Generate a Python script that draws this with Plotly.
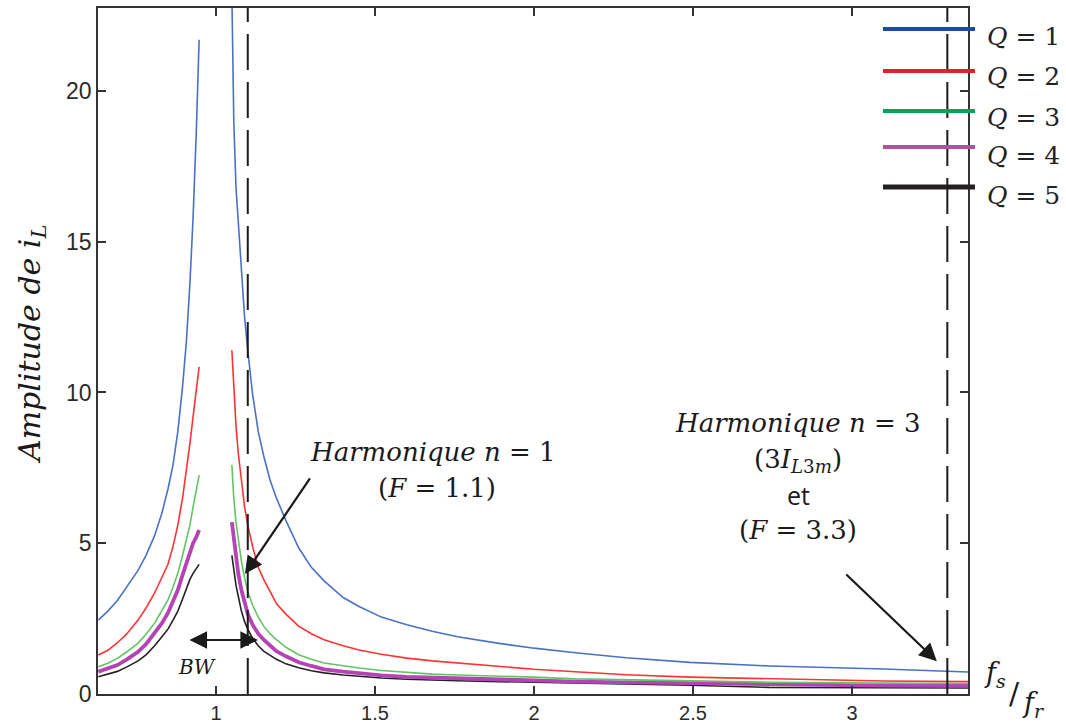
import plotly.graph_objects as go

# ---- data ----
x_left = [0.63, 0.66, 0.69, 0.72, 0.755, 0.78, 0.807, 0.83, 0.849, 0.865,
          0.88, 0.895, 0.907, 0.918, 0.928, 0.938, 0.947]
x_right = [1.05, 1.056, 1.063, 1.07, 1.08, 1.09, 1.10, 1.115, 1.133, 1.15,
           1.17, 1.19, 1.22, 1.26, 1.30, 1.34, 1.40, 1.45, 1.52, 1.60,
           1.68, 1.76, 1.89, 2.0, 2.13, 2.29, 2.49, 2.74, 3.1, 3.365]

q1_left = [2.45, 2.75, 3.1, 3.55, 4.1, 4.6, 5.25, 6.0, 6.8, 7.6, 8.7, 10.2, 11.7, 13.6, 15.8, 18.6, 21.7]
q2_left = [1.29, 1.45, 1.7, 2.0, 2.45, 2.85, 3.35, 3.85, 4.3, 4.9, 5.6, 6.5, 7.4, 8.3, 9.2, 10.0, 10.85]
q3_left = [0.9, 1.02, 1.18, 1.4, 1.69, 1.98, 2.35, 2.75, 3.12, 3.55, 4.0, 4.6, 5.1, 5.6, 6.2, 6.7, 7.26]
q4_left = [0.74, 0.85, 0.96, 1.15, 1.4, 1.65, 2.02, 2.35, 2.69, 3.05, 3.45, 3.95, 4.33, 4.7, 5.0, 5.2, 5.44]
q5_left = [0.57, 0.65, 0.75, 0.9, 1.1, 1.3, 1.6, 1.9, 2.15, 2.45, 2.75, 3.15, 3.5, 3.8, 4.0, 4.15, 4.3]

q1_right = [23.2, 19.0, 16.8, 15.6, 14.0, 12.5, 11.4, 9.95, 8.7, 7.9,
            7.1, 6.5, 5.75, 4.85, 4.2, 3.75, 3.2, 2.9, 2.55, 2.3,
            2.08, 1.9, 1.68, 1.52, 1.37, 1.2, 1.05, 0.93, 0.83, 0.73]
q2_right = [11.4, 10.0, 8.9, 8.0, 7.0, 6.2, 5.6, 4.9, 4.2, 3.8,
            3.4, 3.0, 2.65, 2.25, 2.0, 1.8, 1.6, 1.46, 1.32, 1.19,
            1.1, 1.03, 0.9, 0.82, 0.74, 0.64, 0.56, 0.5, 0.43, 0.41]
q3_right = [7.6, 6.5, 5.7, 5.1, 4.4, 3.85, 3.4, 2.95, 2.55, 2.25,
            2.0, 1.8, 1.55, 1.3, 1.15, 1.03, 0.93, 0.86, 0.78, 0.71,
            0.66, 0.63, 0.6, 0.56, 0.5, 0.47, 0.42, 0.39, 0.36, 0.35]
q4_right = [5.7, 5.1, 4.5, 4.0, 3.45, 3.0, 2.65, 2.3, 2.0, 1.8,
            1.6, 1.42, 1.25, 1.05, 0.93, 0.82, 0.74, 0.68, 0.62, 0.57,
            0.54, 0.51, 0.48, 0.45, 0.41, 0.39, 0.37, 0.31, 0.28, 0.27]
q5_right = [4.6, 4.1, 3.6, 3.25, 2.75, 2.4, 2.15, 1.85, 1.6, 1.42,
            1.28, 1.15, 1.0, 0.87, 0.77, 0.7, 0.63, 0.58, 0.53, 0.49,
            0.46, 0.44, 0.41, 0.39, 0.35, 0.32, 0.29, 0.22, 0.21, 0.2]

q_labels = ["1", "2", "3", "4", "5"]
harmonics = [1.1, 3.3]
x_ticks = [1, 1.5, 2, 2.5, 3]
x_tick_text = ["1", "1.5", "2", "2.5", "3"]
y_ticks = [0, 5, 10, 15, 20]
y_tick_text = ["0", "5", "10", "15", "20"]

# ---- styles ----
plot_colors = ["#4a72c4", "#ff3333", "#62c462", "#b444b4", "#222222"]
plot_widths = [1.6, 1.6, 1.6, 3.8, 1.6]
legend_colors = ["#1a4c9c", "#ee1c25", "#00a651", "#b5509e", "#231f20"]
legend_widths = [4, 4, 4, 4, 5]

lefts = [q1_left, q2_left, q3_left, q4_left, q5_left]
rights = [q1_right, q2_right, q3_right, q4_right, q5_right]

fig = go.Figure()
order = [4, 3, 2, 1, 0]
for i in order:
    fig.add_trace(go.Scatter(
        x=x_left + [None] + x_right,
        y=lefts[i] + [None] + rights[i],
        mode="lines",
        line=dict(color=plot_colors[i], width=plot_widths[i]),
        name="Q = " + q_labels[i],
        showlegend=False,
        connectgaps=False,
    ))

W, H = 1066, 725
L, R, T, B = 98, 98, 8, 31
pw, ph = W - L - R, H - T - B


def px(xp):
    return (xp - L) / pw


def py(yp):
    return (H - B - yp) / ph


MATH = "DejaVu Serif"
INK = "#1a1a1a"

shapes = []
for h in harmonics:
    shapes.append(dict(type="line", xref="x", yref="paper", x0=h, x1=h, y0=0, y1=1,
                       line=dict(color=INK, width=2, dash="36px,12px"), layer="above"))

legend_y = [29, 71, 111, 147, 187]
label_y = [36, 77, 118, 155, 195]
annotations = []
for i in range(5):
    shapes.append(dict(type="line", xref="paper", yref="paper",
                       x0=px(883), x1=px(975), y0=py(legend_y[i]), y1=py(legend_y[i]),
                       line=dict(color=legend_colors[i], width=legend_widths[i]), layer="above"))
    annotations.append(dict(xref="paper", yref="paper", x=px(985), y=py(label_y[i]),
                            xanchor="left", yanchor="middle", showarrow=False,
                            text="<i>Q</i> = " + q_labels[i],
                            font=dict(family=MATH, size=25, color="#222")))

serif = dict(family=MATH, size=26, color=INK)

annotations += [
    dict(xref="paper", yref="paper", x=px(433), y=py(452), showarrow=False,
         text="<i>Harmonique n</i> = 1", font=serif, xanchor="center", yanchor="middle"),
    dict(xref="paper", yref="paper", x=px(437), y=py(488), showarrow=False,
         text="(<i>F</i> = 1.1)", font=serif, xanchor="center", yanchor="middle"),
    dict(xref="paper", yref="paper", x=px(798), y=py(423), showarrow=False,
         text="<i>Harmonique n</i> = 3", font=serif, xanchor="center", yanchor="middle"),
    dict(xref="paper", yref="paper", x=px(798), y=py(460), showarrow=False,
         text="(3<i>I</i><sub><i>L</i>3<i>m</i></sub>)", font=serif, xanchor="center", yanchor="middle"),
    dict(xref="paper", yref="paper", x=px(798), y=py(495), showarrow=False,
         text="et", font=dict(family="Open Sans", size=25, color=INK),
         xanchor="center", yanchor="middle"),
    dict(xref="paper", yref="paper", x=px(798), y=py(530), showarrow=False,
         text="(<i>F</i> = 3.3)", font=serif, xanchor="center", yanchor="middle"),
    dict(xref="paper", yref="paper", x=px(197), y=py(667), showarrow=False,
         text="<i>BW</i>", font=dict(family=MATH, size=20, color=INK),
         xanchor="center", yanchor="middle"),
    dict(xref="paper", yref="paper", x=px(31), y=py(345), showarrow=False, textangle=-90,
         text="<i>Amplitude de i</i><sub><i>L</i></sub>",
         font=dict(family=MATH, size=30, color=INK),
         xanchor="center", yanchor="middle"),
    dict(xref="paper", yref="paper", x=px(995), y=py(674), showarrow=False,
         text="<i>f</i><sub><i>s</i></sub>", font=dict(family=MATH, size=27, color=INK),
         xanchor="center", yanchor="middle"),
    dict(xref="paper", yref="paper", x=px(1014), y=py(693), showarrow=False,
         text="/", font=dict(family=MATH, size=30, color=INK),
         xanchor="center", yanchor="middle"),
    dict(xref="paper", yref="paper", x=px(1033), y=py(704), showarrow=False,
         text="<i>f</i><sub><i>r</i></sub>", font=dict(family=MATH, size=27, color=INK),
         xanchor="center", yanchor="middle"),
    # arrows
    dict(x=1.0912, y=3.98, xref="x", yref="y", ax=66, ay=-97, text="", showarrow=True,
         arrowhead=2, arrowsize=1.6, arrowwidth=2.2, arrowcolor=INK, standoff=0),
    dict(x=3.267, y=1.09, xref="x", yref="y", ax=-92, ay=-88, text="", showarrow=True,
         arrowhead=2, arrowsize=1.6, arrowwidth=2.2, arrowcolor=INK, standoff=0),
    dict(x=1.132, y=1.79, xref="x", yref="y", ax=-70, ay=0, text="", showarrow=True,
         arrowhead=2, arrowsize=1.6, arrowwidth=2.2, arrowcolor=INK, standoff=0,
         startstandoff=0, arrowside="end+start", startarrowhead=2, startarrowsize=1.6),
]

axis_common = dict(showgrid=False, zeroline=False, showline=True, linecolor="#333",
                   linewidth=1.5, mirror="ticks", ticks="inside", ticklen=8, tickwidth=1.5,
                   tickcolor="#333", automargin=False)

fig.update_layout(
    width=W, height=H, autosize=False,
    margin=dict(l=L, r=R, t=T, b=B),
    paper_bgcolor="white", plot_bgcolor="white",
    xaxis=dict(range=[0.629, 3.365], tickvals=x_ticks, ticktext=x_tick_text,
               tickfont=dict(family="Liberation Sans", size=20, color="#2a2a2a"), **axis_common),
    yaxis=dict(range=[0, 22.75], tickvals=y_ticks, ticktext=y_tick_text,
               tickfont=dict(family="Liberation Sans", size=23, color="#2a2a2a"), **axis_common),
    shapes=shapes, annotations=annotations,
)

fig.write_html("out.html", config={"displayModeBar": False},
               post_script="document.body.style.margin='0px';")
